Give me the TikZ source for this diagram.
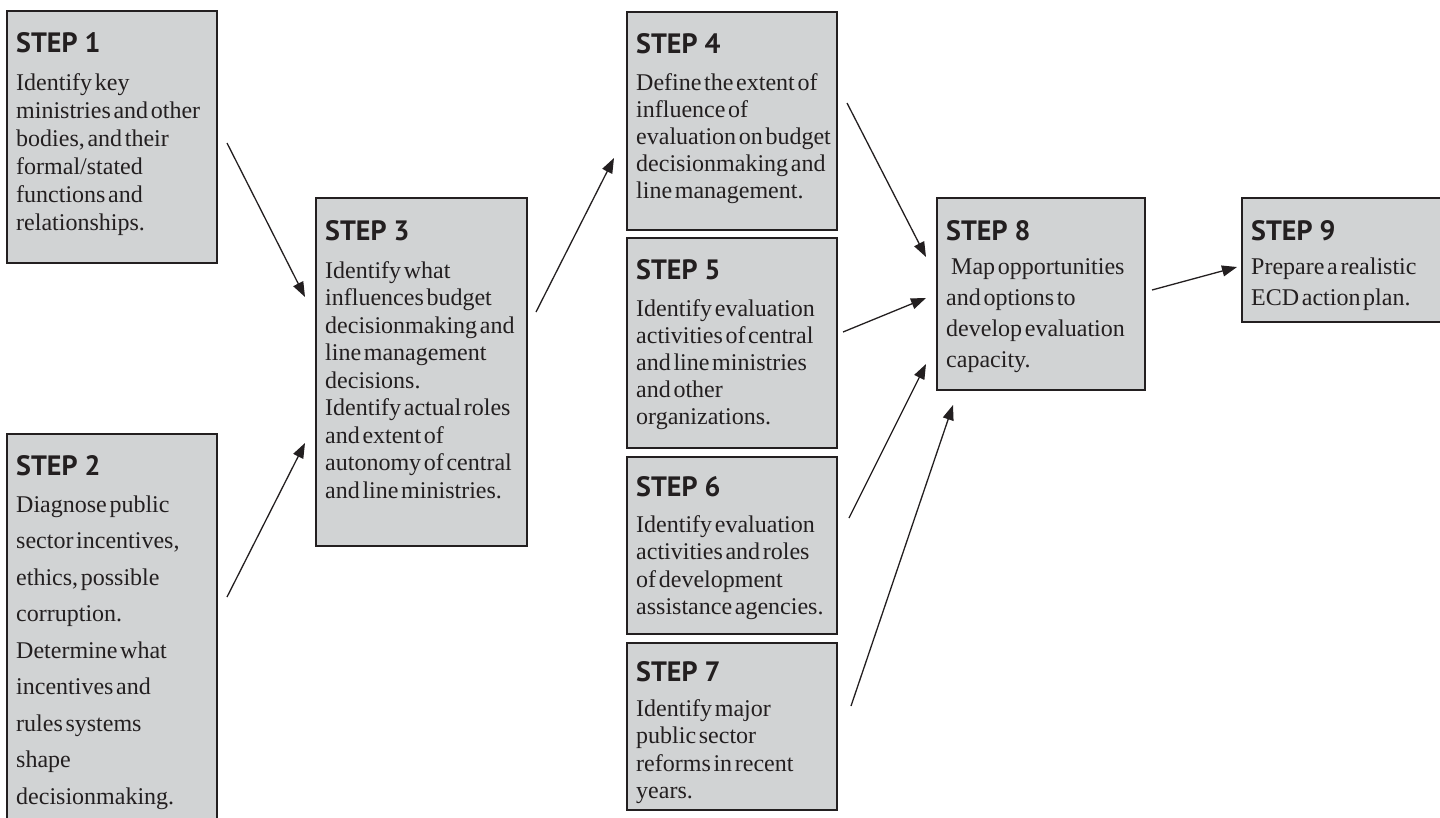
\documentclass[tikz,border=0pt]{standalone}
\usepackage{fontspec}
\setmainfont{Liberation Serif}[WordSpace=0.45]
\newfontfamily\headfont{PT Sans}
\usetikzlibrary{arrows.meta,calc}
\definecolor{boxfill}{RGB}{209,211,212}
\definecolor{ink}{RGB}{35,31,32}
\newcommand{\bodytext}[2]{\parbox[t]{260pt}{\raggedright\baselineskip=#1pt\lineskiplimit=-50pt #2}}
\tikzset{
  stepbox/.style={draw=ink, fill=boxfill, line width=2.4pt, anchor=north west, inner sep=0pt, outer sep=0pt},
  head/.style={anchor=base west, inner sep=0pt, text=ink, font=\headfont\bfseries\fontsize{28}{28}\selectfont},
  body/.style={anchor=base west, inner sep=0pt, text=ink, font=\fontsize{24}{28}\selectfont},
  conn/.style={draw=ink, line width=1.3pt, -{Triangle[length=15pt,width=11pt]}},
}
\begin{document}
\begin{tikzpicture}[x=1pt,y=-1pt]
\useasboundingbox (0,0) rectangle (1440,817);
% boxes
\node[stepbox, minimum width=210pt, minimum height=252pt] (s1) at (7,11) {};
\node[stepbox, minimum width=210pt, minimum height=390pt] (s2) at (7,434) {};
\node[stepbox, minimum width=211pt, minimum height=348pt] (s3) at (316,198) {};
\node[stepbox, minimum width=210pt, minimum height=218pt] (s4) at (627,12) {};
\node[stepbox, minimum width=210pt, minimum height=210pt] (s5) at (627,238) {};
\node[stepbox, minimum width=210pt, minimum height=177pt] (s6) at (627,457) {};
\node[stepbox, minimum width=210pt, minimum height=167pt] (s7) at (627,643) {};
\node[stepbox, minimum width=208pt, minimum height=192pt] (s8) at (937,198) {};
\node[stepbox, minimum width=202pt, minimum height=124pt] (s9) at (1242,198) {};
% headings
\node[head] (h1) at ($(s1.north west)+(9,41)$) {STEP 1};
\node[head] (h2) at ($(s2.north west)+(9,41)$) {STEP 2};
\node[head] (h3) at ($(s3.north west)+(9,42)$) {STEP 3};
\node[head] (h4) at ($(s4.north west)+(9,41)$) {STEP 4};
\node[head] (h5) at ($(s5.north west)+(9,41)$) {STEP 5};
\node[head] (h6) at ($(s6.north west)+(9,39)$) {STEP 6};
\node[head] (h7) at ($(s7.north west)+(9,38)$) {STEP 7};
\node[head] (h8) at ($(s8.north west)+(9,42)$) {STEP 8};
\node[head] (h9) at ($(s9.north west)+(9,42)$) {STEP 9};
% body texts
\node[body] (b1) at ($(s1.north west)+(9,79)$) {\bodytext{28}{Identify key\\ministries and other\\bodies, and their\\formal/stated\\functions and\\relationships.}};
\node[body] (b2) at ($(s2.north west)+(9,78)$) {\bodytext{36.5}{Diagnose public\\sector incentives,\\ethics, possible\\corruption.\\Determine what\\incentives and\\rules systems\\shape\\decisionmaking.}};
\node[body] (b3) at ($(s3.north west)+(9,80)$) {\bodytext{27.5}{Identify what\\influences budget\\decisionmaking and\\line management\\decisions.\\Identify actual roles\\and extent of\\autonomy of central\\and line ministries.}};
\node[body] (b4) at ($(s4.north west)+(9,78)$) {\bodytext{27}{Define the extent of\\influence of\\evaluation on budget\\decisionmaking and\\line management.}};
\node[body] (b5) at ($(s5.north west)+(9,78)$) {\bodytext{27}{Identify evaluation\\activities of central\\and line ministries\\and other\\organizations.}};
\node[body] (b6) at ($(s6.north west)+(9,75)$) {\bodytext{27.5}{Identify evaluation\\activities and roles\\of development\\assistance agencies.}};
\node[body] (b7) at ($(s7.north west)+(9,73)$) {\bodytext{27.5}{Identify major\\public sector\\reforms in recent\\years.}};
\node[body] (b8) at ($(s8.north west)+(9,76)$) {\bodytext{31}{\hspace*{5pt}Map opportunities\\and options to\\develop evaluation\\capacity.}};
\node[body] (b9) at ($(s9.north west)+(9,76)$) {\bodytext{31}{Prepare a realistic\\ECD action plan.}};
% connectors
\draw[conn] ($(s1.north east)+(10,132)$) -- ($(s3.north west)+(-11,99)$);
\draw[conn] ($(s2.north east)+(10,163)$) -- ($(s3.south west)+(-11,-103)$);
\draw[conn] ($(s3.north east)+(9,114)$) -- ($(s4.north west)+(-13,146)$);
\draw[conn] ($(s4.north east)+(10,91)$) -- ($(s8.north west)+(-11,59)$);
\draw[conn] ($(s5.north east)+(6,94)$) -- ($(s8.north west)+(-11,100)$);
\draw[conn] ($(s6.north east)+(12,61)$) -- ($(s8.south west)+(-11,-26)$);
\draw[conn] ($(s7.north east)+(14,63)$) -- ($(s8.south west)+(16,15)$);
\draw[conn] ($(s8.north east)+(7,92)$) -- ($(s9.north west)+(-5,69)$);
\end{tikzpicture}
\end{document}
